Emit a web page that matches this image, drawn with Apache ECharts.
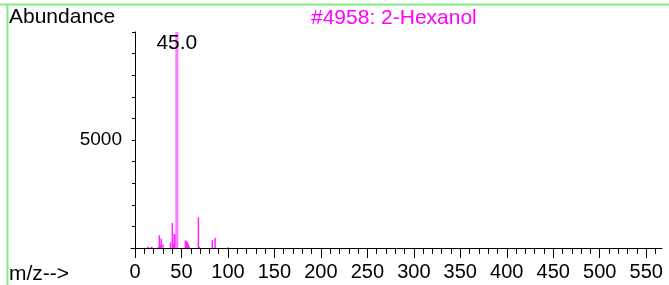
<!DOCTYPE html>
<html>
<head>
<meta charset="UTF-8">
<title>2-Hexanol</title>
<script src="https://cdn.jsdelivr.net/npm/echarts@6/dist/echarts.min.js"></script>
<style>
  html, body { margin: 0; padding: 0; background: #fff; }
  #chart { width: 669px; height: 285px; }
</style>
</head>
<body>
<div id="chart"></div>
<script>
// m/z and abundance
var mz        = [15, 18, 19, 26, 27, 28, 29, 31, 39, 41, 42, 43, 44, 46, 55, 56, 57, 58, 59, 69, 70, 84, 87, 101];
var abundance = [70, 40, 60, 50, 590, 150, 430, 160, 260, 1160, 180, 650, 640, 220, 350, 330, 290, 180, 80, 1420, 60, 360, 480, 30];
var baseMz = 45;
var baseAbundance = 10000;
var majorTicks = [0, 50, 100, 150, 200, 250, 300, 350, 400, 450, 500, 550];
var minorTicks = [];
for (var t = 0; t <= 560; t += 10) minorTicks.push(t);

var chart = echarts.init(document.getElementById('chart'));
var font = 'Liberation Sans, Arial, sans-serif';

var peaks = mz.map(function (m, i) { return [m, abundance[i]]; });

var option = {
  animation: false,
  grid: { left: 131, right: 7, top: 32, bottom: 37 },
  graphic: [
    { type: 'line', shape: { x1: 0, y1: 4.5, x2: 669, y2: 4.5 }, style: { stroke: '#7ff07f', lineWidth: 2 } },
    { type: 'line', shape: { x1: 7.5, y1: 4, x2: 7.5, y2: 285 }, style: { stroke: '#7ff07f', lineWidth: 2 } },
    { type: 'text', left: 9, top: 7, style: { text: 'Abundance', font: '21px ' + font, fill: '#000' } },
    { type: 'text', left: 311, top: 8, style: { text: '#4958: 2-Hexanol', font: '21px ' + font, fill: '#ff00ff' } },
    { type: 'text', left: 9, top: 264, style: { text: 'm/z-->', font: '21px ' + font, fill: '#000' } }
  ],
  xAxis: [
    {
      type: 'value', min: -4.3, max: 567,
      axisLine: { lineStyle: { color: '#000', width: 1 } },
      splitLine: { show: false },
      axisTick: { customValues: majorTicks, length: 10, lineStyle: { color: '#000' } },
      axisLabel: { customValues: majorTicks, color: '#000', fontSize: 20, fontFamily: font, margin: 14 }
    },
    {
      type: 'value', min: -4.3, max: 567, position: 'bottom',
      axisLine: { show: false },
      splitLine: { show: false },
      axisTick: { customValues: minorTicks, length: 6, lineStyle: { color: '#000' } },
      axisLabel: { show: false }
    }
  ],
  yAxis: {
    type: 'value', min: 0, max: 10000, interval: 1000,
    axisLine: { show: true, lineStyle: { color: '#000' } },
    splitLine: { show: false },
    axisTick: { show: true, length: 3, lineStyle: { color: '#000' } },
    axisLabel: {
      color: '#000', fontSize: 19, fontFamily: font, margin: 9,
      formatter: function (v) { return v === 5000 ? '5000' : ''; }
    }
  },
  series: [
    {
      type: 'bar', xAxisIndex: 0, barWidth: 1.5, barGap: '-100%',
      itemStyle: { color: '#ff22ff' },
      data: peaks
    },
    {
      type: 'bar', xAxisIndex: 0, barWidth: 3, barGap: '-100%',
      itemStyle: { color: '#ff77ff' },
      label: {
        show: true, position: 'insideTop', offset: [0, -4],
        formatter: function (p) { return p.value[0].toFixed(1); },
        color: '#000', fontSize: 21, fontFamily: font
      },
      data: [[baseMz, baseAbundance]]
    }
  ]
};
chart.setOption(option);
</script>
</body>
</html>
